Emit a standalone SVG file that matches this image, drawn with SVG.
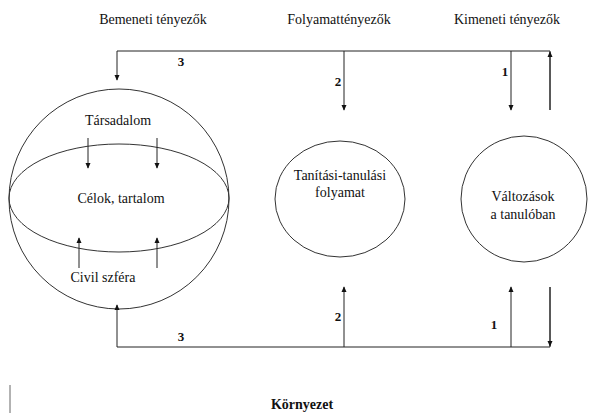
<svg xmlns="http://www.w3.org/2000/svg" width="595" height="413" viewBox="0 0 595 413">
<style>
.ln{stroke:#222;stroke-width:1;fill:none}
.sh{stroke:#333;stroke-width:1;fill:none}
</style>
<defs>
<marker id="ah" viewBox="0 0 8 8" refX="7" refY="4" markerWidth="6" markerHeight="6" orient="auto" markerUnits="userSpaceOnUse">
<path d="M0,0.5 L8,4 L0,7.5 Z" fill="#111"/>
</marker>
</defs>
<rect width="595" height="413" fill="#fff"/>
<g id="headers">
<text font-family="Liberation Serif" font-size="14" fill="#111" text-anchor="middle" x="153" y="24">Bemeneti tényezők</text>
<text font-family="Liberation Serif" font-size="14" fill="#111" text-anchor="middle" x="339" y="24">Folyamattényezők</text>
<text font-family="Liberation Serif" font-size="14" fill="#111" text-anchor="middle" x="507" y="24">Kimeneti tényezők</text>
</g>
<g id="society">
<circle class="sh" cx="119" cy="199" r="110"/>
<ellipse class="sh" cx="119" cy="198" rx="110" ry="54"/>
<text font-family="Liberation Serif" font-size="14" fill="#111" text-anchor="middle" x="118" y="125">Társadalom</text>
<text font-family="Liberation Serif" font-size="14" fill="#111" text-anchor="middle" x="121" y="203">Célok, tartalom</text>
<text font-family="Liberation Serif" font-size="14" fill="#111" text-anchor="middle" x="103" y="282">Civil szféra</text>
</g>
<g id="process">
<ellipse class="sh" cx="340" cy="199" rx="65" ry="58"/>
<text font-family="Liberation Serif" font-size="14" fill="#111" text-anchor="middle" x="340" y="180">Tanítási-tanulási</text>
<text font-family="Liberation Serif" font-size="14" fill="#111" text-anchor="middle" x="340" y="197">folyamat</text>
</g>
<g id="output">
<circle class="sh" cx="524" cy="199" r="63"/>
<text font-family="Liberation Serif" font-size="14" fill="#111" text-anchor="middle" x="523" y="201">Változások</text>
<text font-family="Liberation Serif" font-size="14" fill="#111" text-anchor="middle" x="523" y="219">a tanulóban</text>
</g>
<g id="connectors">
<polyline class="ln" points="550,110 550,51 117,51 117,80" marker-end="url(#ah)"/>
<line class="ln" x1="550" y1="110" x2="550" y2="52" marker-end="url(#ah)"/>
<line class="ln" x1="344" y1="51" x2="344" y2="110" marker-end="url(#ah)"/>
<line class="ln" x1="511" y1="51" x2="511" y2="110" marker-end="url(#ah)"/>
<line class="ln" x1="88" y1="138" x2="88" y2="168" marker-end="url(#ah)"/>
<line class="ln" x1="157" y1="138" x2="157" y2="168" marker-end="url(#ah)"/>
<line class="ln" x1="79" y1="268" x2="79" y2="238" marker-end="url(#ah)"/>
<line class="ln" x1="157" y1="268" x2="157" y2="238" marker-end="url(#ah)"/>
<polyline class="ln" points="550,287 550,347 117,347 117,305" marker-end="url(#ah)"/>
<line class="ln" x1="550" y1="287" x2="550" y2="346" marker-end="url(#ah)"/>
<line class="ln" x1="344" y1="347" x2="344" y2="287" marker-end="url(#ah)"/>
<line class="ln" x1="511" y1="347" x2="511" y2="287" marker-end="url(#ah)"/>
<text font-family="Liberation Serif" font-size="13" font-weight="bold" fill="#111" text-anchor="middle" x="181" y="66">3</text>
<text font-family="Liberation Serif" font-size="13" font-weight="bold" fill="#111" text-anchor="middle" x="338" y="86">2</text>
<text font-family="Liberation Serif" font-size="13" font-weight="bold" fill="#111" text-anchor="middle" x="505" y="76">1</text>
<text font-family="Liberation Serif" font-size="13" font-weight="bold" fill="#111" text-anchor="middle" x="181" y="341">3</text>
<text font-family="Liberation Serif" font-size="13" font-weight="bold" fill="#111" text-anchor="middle" x="338" y="321">2</text>
<text font-family="Liberation Serif" font-size="13" font-weight="bold" fill="#111" text-anchor="middle" x="494" y="329">1</text>
</g>
<g id="environment">
<line x1="10" y1="385" x2="10" y2="413" stroke="#666" stroke-width="1"/>
<text font-family="Liberation Serif" font-size="14" font-weight="bold" fill="#111" text-anchor="middle" x="302" y="409">Környezet</text>
</g>
</svg>
